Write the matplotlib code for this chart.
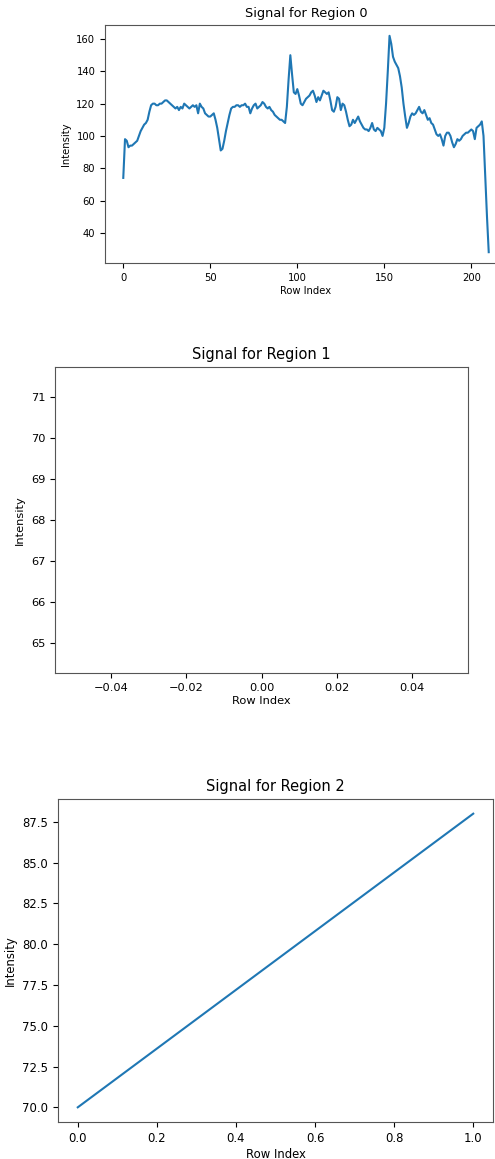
import matplotlib
matplotlib.use("Agg")
import matplotlib.pyplot as plt

W, H = 495, 1159

# Region 0: intensity per row (rows 0..212)
region0_signal = [
    74, 98, 97, 93, 94, 94, 95, 96, 97, 100,
    103, 105, 107, 108, 110, 115, 119, 120, 120, 119,
    119, 120, 120, 121, 122, 122, 121, 120, 119, 118,
    117, 118, 116, 118, 117, 120, 119, 118, 117, 118,
    119, 118, 119, 114, 120, 118, 117, 114, 113, 112,
    112, 113, 114, 110, 105, 98, 91, 92, 97, 103,
    108, 113, 117, 118, 118, 119, 119, 118, 119, 119,
    120, 118, 118, 114, 117, 119, 120, 117, 118, 119,
    121, 120, 118, 117, 118, 116, 115, 113, 112, 111,
    110, 110, 109, 108, 118, 135, 150, 138, 127, 126,
    129, 125, 120, 119, 121, 123, 124, 125, 127, 128,
    125, 121, 124, 122, 125, 128, 127, 126, 127, 122,
    116, 115, 118, 124, 123, 116, 120, 119, 115, 110,
    106, 107, 110, 108, 110, 112, 109, 107, 105, 104,
    104, 103, 105, 108, 104, 103, 105, 104, 103, 100,
    105, 120, 140, 162, 157, 149, 146, 144, 142, 137,
    130, 120, 112, 105, 108, 112, 114, 113, 114, 116,
    118, 115, 114, 116, 113, 110, 111, 108, 107, 104,
    101, 100, 101, 98, 94, 100, 102, 102, 100, 96,
    93, 95, 98, 97, 98, 100, 101, 102, 102, 103,
    104, 103, 98, 105, 106, 107, 109, 100, 75, 50,
    28,
]
region1_signal = [68]
region2_signal = [70, 88]

signals = [region0_signal, region1_signal, region2_signal]

# axes boxes in pixels: left, top, right, bottom
boxes = [(105, 25, 507, 263), (55, 367, 468, 673), (58, 799, 493, 1122)]
tick_sizes = [7.2, 8.2, 8.4]
title_sizes = [9.3, 10.5, 10.5]

fig = plt.figure(figsize=(W / 100, H / 100), dpi=100)

for i, (sig, box, ts, tt) in enumerate(zip(signals, boxes, tick_sizes, title_sizes)):
    l, t, r, b = box
    ax = fig.add_axes([l / W, 1 - b / H, (r - l) / W, (b - t) / H])
    ax.plot(range(len(sig)), sig, color="#1f77b4", linewidth=1.5)
    ax.set_title(f"Signal for Region {i}", fontsize=tt)
    ax.set_xlabel("Row Index", fontsize=ts, labelpad=2)
    ax.set_ylabel("Intensity", fontsize=ts, labelpad=4)
    ax.tick_params(labelsize=ts)
    for s in ax.spines.values():
        s.set_color("#555555")

fig.savefig("out.png", dpi=100)
